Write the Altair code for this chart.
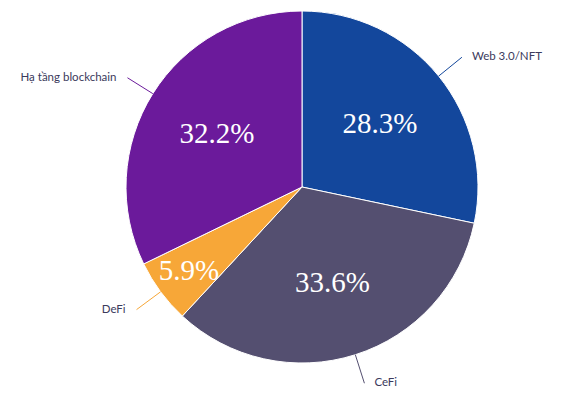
import altair as alt
import pandas as pd

categories = ["Web 3.0/NFT", "CeFi", "DeFi", "Hạ tầng blockchain"]
values = [28.3, 33.6, 5.9, 32.2]
pct_labels = ["28.3%", "33.6%", "5.9%", "32.2%"]
colors = ["#13479C", "#544F70", "#F7A738", "#6B1A9B"]

df = pd.DataFrame({
    "idx": list(range(len(categories))),
    "cat": categories,
    "value": values,
    "pct": pct_labels,
})

W, H = 552, 379
CX, CY, R = 294, 179, 176
xs = alt.Scale(domain=[-CX / R, (W - CX) / R], range=[0, W], nice=False, zero=False)
ys = alt.Scale(domain=[-(H - CY) / R, CY / R], range=[H, 0], nice=False, zero=False)

base = alt.Chart(df).transform_window(
    cum="sum(value)", sort=[{"field": "idx"}], frame=[None, 0]
).transform_joinaggregate(total="sum(value)").transform_calculate(
    mid="2*PI*(datum.cum - datum.value/2)/datum.total",
    rp="datum.value < 10 ? 0.80 : 0.57",
).transform_calculate(
    px="sin(datum.mid)*datum.rp",
    py="cos(datum.mid)*datum.rp",
    lx1="sin(datum.mid)*1.0",
    ly1="cos(datum.mid)*1.0",
    lx2="sin(datum.mid)*1.17",
    ly2="cos(datum.mid)*1.17",
)

arcs = alt.Chart(df).mark_arc(radius=R, stroke="white", strokeWidth=1).encode(
    theta=alt.Theta("value:Q", stack=True),
    order=alt.Order("idx:Q"),
    color=alt.Color("cat:N", scale=alt.Scale(domain=categories, range=colors), legend=None),
    x=alt.value(CX),
    y=alt.value(CY),
)

pcts = base.mark_text(
    font="Liberation Serif", fontSize=29, color="white", baseline="middle", align="center"
).encode(
    x=alt.X("px:Q", scale=xs, axis=None),
    y=alt.Y("py:Q", scale=ys, axis=None),
    text="pct:N",
)

lines = base.mark_rule(strokeWidth=1).encode(
    x=alt.X("lx1:Q", scale=xs, axis=None),
    y=alt.Y("ly1:Q", scale=ys, axis=None),
    x2="lx2:Q",
    y2="ly2:Q",
    color=alt.Color("cat:N", scale=alt.Scale(domain=categories, range=colors), legend=None),
)

right_labels = base.transform_filter("datum.lx2 >= 0").mark_text(
    font="Lato", fontSize=11.5, color="#3b3a5c", align="left", baseline="middle", dx=10, dy=0
).encode(
    x=alt.X("lx2:Q", scale=xs, axis=None),
    y=alt.Y("ly2:Q", scale=ys, axis=None),
    text="cat:N",
)

left_labels = base.transform_filter("datum.lx2 < 0").mark_text(
    font="Lato", fontSize=11.5, color="#3b3a5c", align="right", baseline="middle", dx=-11, dy=0
).encode(
    x=alt.X("lx2:Q", scale=xs, axis=None),
    y=alt.Y("ly2:Q", scale=ys, axis=None),
    text="cat:N",
)

chart = alt.layer(arcs, lines, pcts, right_labels, left_labels).properties(
    width=W, height=H, padding=0, background="white",
    autosize=alt.AutoSizeParams(type="none")
).configure_view(stroke=None)

chart.save("out.html", embed_options={"renderer": "svg", "actions": False})
